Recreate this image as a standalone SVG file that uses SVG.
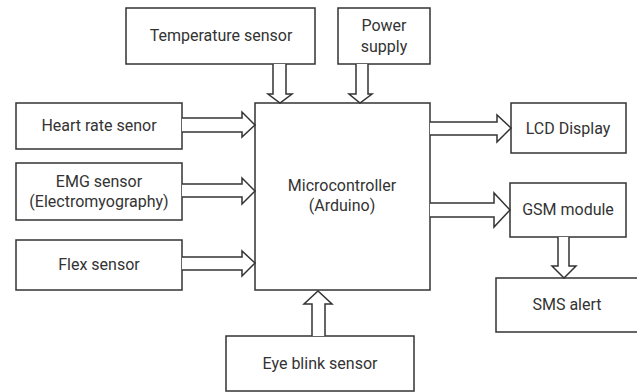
<svg xmlns="http://www.w3.org/2000/svg" width="637" height="392" viewBox="0 0 637 392">
<style>
.box{fill:#fff;stroke:#333;stroke-width:1.5}
.arr{fill:#fff;stroke:#333;stroke-width:1.5;stroke-linejoin:miter}
text{font-family:Roboto,"Liberation Sans",sans-serif;font-size:16px;fill:#333;text-anchor:middle}
</style>
<rect width="637" height="392" fill="#fff"/>
<g id="temperature"><rect class="box" x="126" y="8" width="189" height="56"/><text x="221" y="41">Temperature sensor</text></g>
<g id="power"><rect class="box" x="338" y="8" width="92" height="56"/><text x="384" y="31">Power</text><text x="384" y="52">supply</text></g>
<g id="heart"><rect class="box" x="16" y="103" width="166" height="46"/><text x="99" y="131">Heart rate senor</text></g>
<g id="emg"><rect class="box" x="16" y="163" width="166" height="57"/><text x="99" y="187">EMG sensor</text><text x="99" y="207">(Electromyography)</text></g>
<g id="flex"><rect class="box" x="16" y="240" width="166" height="50"/><text x="99" y="270">Flex sensor</text></g>
<g id="mcu"><rect class="box" x="255" y="103" width="175" height="187"/><text x="342" y="191">Microcontroller</text><text x="342" y="211">(Arduino)</text></g>
<g id="lcd"><rect class="box" x="511" y="103" width="115" height="50"/><text x="568" y="134">LCD Display</text></g>
<g id="gsm"><rect class="box" x="510" y="183" width="116" height="54"/><text x="568" y="215">GSM module</text></g>
<g id="sms"><rect class="box" x="496" y="278" width="146" height="54"/><text x="567" y="310">SMS alert</text></g>
<g id="eyeblink"><rect class="box" x="226" y="336" width="188" height="55"/><text x="320" y="369">Eye blink sensor</text></g>
<g id="connectors">
<path class="arr" d="M273,64 V94 H268 L280,103 L292,94 H286 V64"/>
<path class="arr" d="M356,64 V94 H349 L360,103 L372,94 H368 V64"/>
<path class="arr" d="M182,118 H242 V112 L255,125 L242,137 V132 H182"/>
<path class="arr" d="M182,184 H242 V178 L255,191 L242,204 V197 H182"/>
<path class="arr" d="M182,257 H242 V251 L255,263 L242,276 V270 H182"/>
<path class="arr" d="M312,336 V304 H304 L318,291 L332,304 H325 V336"/>
<path class="arr" d="M430,122 H497 V115 L511,128 L497,142 V135 H430"/>
<path class="arr" d="M430,203 H494 V193 L510,210 L494,227 V217 H430"/>
<path class="arr" d="M558,237 V266 H552 L564,278 L576,266 H569 V237"/>
</g>
</svg>
